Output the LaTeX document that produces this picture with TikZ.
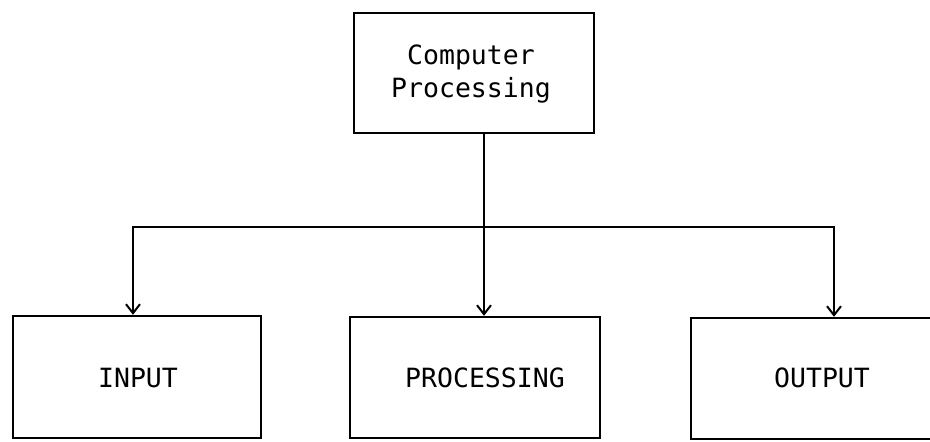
\documentclass[tikz,border=0pt]{standalone}
\usepackage{fontspec}
\setmonofont{DejaVu Sans Mono}
\usetikzlibrary{arrows.meta}
\tikzset{
  box/.style={draw, line width=2.4pt, inner sep=0pt},
  label text/.style={font=\ttfamily\fontsize{26.5}{33}\selectfont, align=center, inner sep=0pt},
  link/.style={line width=2pt},
  arr/.style={link, -{Straight Barb[length=9pt,width=14pt,line width=2pt]}}
}
\begin{document}
\begin{tikzpicture}[x=1pt,y=-1pt]
  \useasboundingbox (0,0) rectangle (930,442);
  \clip (0,0) rectangle (930,442);

  % top box
  \node[box, minimum width=240pt, minimum height=120pt] (top) at (474,73) {};
  \node[label text] (toptext) at (471,74) {Computer\\Processing};

  % lower boxes
  \node[box, minimum width=248pt, minimum height=122pt] (in) at (137,377) {};
  \node[label text] (intext) at (138,378) {INPUT};

  \node[box, minimum width=250pt, minimum height=121pt] (proc) at (475,377.5) {};
  \node[label text] (proctext) at (485,378) {PROCESSING};

  \node[box, minimum width=262pt, minimum height=121pt] (out) at (822,378.5) {};
  \node[label text] (outtext) at (822,378) {OUTPUT};

  % branch columns and the bus line
  \coordinate (colin) at (133,0);
  \coordinate (colmid) at (484,0);
  \coordinate (colout) at (834,0);
  \coordinate (bus) at (484,227);

  % connectors
  \draw[arr] (colmid |- top.south) -- (colmid |- proc.north);
  \draw[arr] (bus) -| (colin |- in.north);
  \draw[arr] (bus) -| (colout |- out.north);
\end{tikzpicture}
\end{document}
